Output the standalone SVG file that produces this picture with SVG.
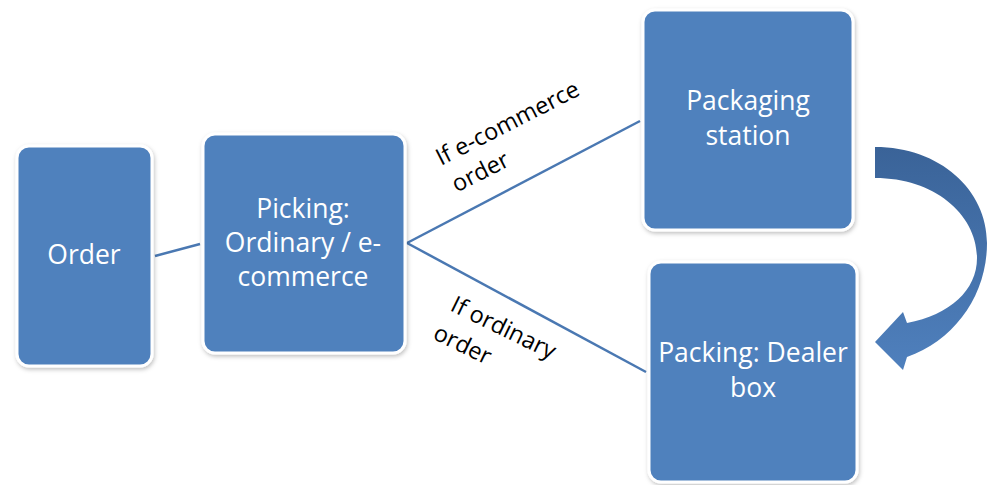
<svg xmlns="http://www.w3.org/2000/svg" width="988" height="485" viewBox="0 0 988 485">
  <defs>
    <filter id="shadow" x="-10%" y="-10%" width="125%" height="125%">
      <feDropShadow dx="1" dy="2" stdDeviation="2" flood-color="#000000" flood-opacity="0.25"/>
    </filter>
    <linearGradient id="arrowGrad" x1="0" y1="0" x2="0" y2="1">
      <stop offset="0" stop-color="#3a6398"/>
      <stop offset="1" stop-color="#4f80bd"/>
    </linearGradient>
  </defs>
  <style>
    .box { fill: #4f81bd; stroke: #ffffff; stroke-width: 3; filter: url(#shadow); }
    .btxt { font-family: "Open Sans", "Liberation Sans", sans-serif; font-size: 26.5px; fill: #ffffff; text-anchor: middle; }
    .ltxt { font-family: "Open Sans", "Liberation Sans", sans-serif; font-size: 23.5px; fill: #000000; }
    .conn { stroke: #4a78b2; stroke-width: 2.5; fill: none; }
  </style>
  <rect width="988" height="485" fill="#ffffff"/>

  <g id="connectors">
    <line class="conn" x1="155" y1="256" x2="200" y2="244"/>
    <line class="conn" x1="407" y1="243" x2="640" y2="121"/>
    <line class="conn" x1="407" y1="243" x2="646" y2="372"/>
    <path id="curved-arrow" d="M875,147 C940,147 987,190 987,243 C987,295 955,340 907,357 L903,370 L875,342 L903,312 L907,323 C950,315 977,290 977,258 C977,215 935,178 875,178 Z" fill="url(#arrowGrad)"/>
  </g>

  <g id="label-ecommerce" transform="translate(441,166) rotate(-27)">
    <text class="ltxt" x="0" y="0">If e-commerce</text>
    <text class="ltxt" x="2" y="31">order</text>
  </g>
  <g id="label-ordinary" transform="translate(449,310) rotate(26)">
    <text class="ltxt" x="0" y="0">If ordinary</text>
    <text class="ltxt" x="-3" y="33">order</text>
  </g>

  <g id="node-order">
    <rect class="box" x="17" y="146" width="135" height="220" rx="12"/>
    <text class="btxt" x="84" y="264">Order</text>
  </g>
  <g id="node-picking">
    <rect class="box" x="203" y="134" width="202" height="219" rx="12"/>
    <text class="btxt" x="303" y="218">Picking:</text>
    <text class="btxt" x="303" y="252">Ordinary / e-</text>
    <text class="btxt" x="303" y="286">commerce</text>
  </g>
  <g id="node-packaging">
    <rect class="box" x="643" y="10" width="210" height="220" rx="12"/>
    <text class="btxt" x="748" y="110">Packaging</text>
    <text class="btxt" x="748" y="145">station</text>
  </g>
  <g id="node-dealer">
    <rect class="box" x="649" y="262" width="208" height="220" rx="12"/>
    <text class="btxt" x="753" y="362">Packing: Dealer</text>
    <text class="btxt" x="753" y="397">box</text>
  </g>
</svg>
